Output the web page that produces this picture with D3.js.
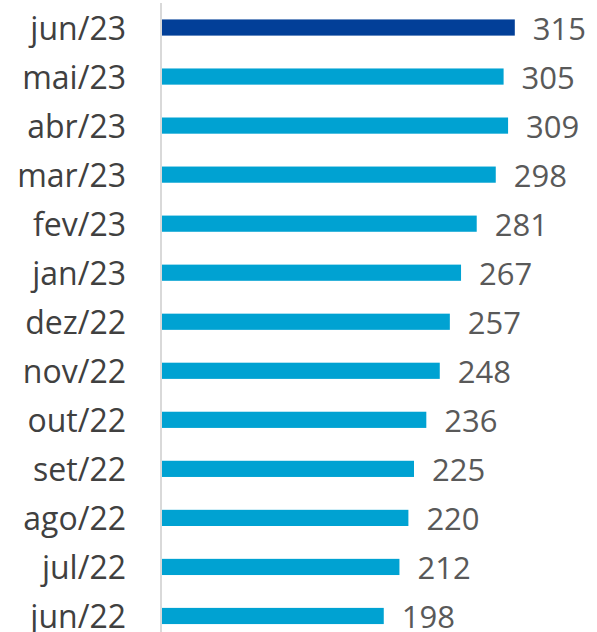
<!DOCTYPE html>
<html><head><meta charset="utf-8">
<script src="https://cdn.jsdelivr.net/npm/d3@7"></script>
<style>body{margin:0;background:#fff}svg{display:block}</style>
</head><body>
<script>
const categories = ["jun/23","mai/23","abr/23","mar/23","fev/23","jan/23","dez/22","nov/22","out/22","set/22","ago/22","jul/22","jun/22"];
const values = [315,305,309,298,281,267,257,248,236,225,220,212,198];
const highlight = ["jun/23"];

const W = 597, H = 632;
const svg = d3.select("body").append("svg").attr("width", W).attr("height", H);

const x = d3.scaleLinear().domain([0, 350]).range([162, 162 + 350 * 1.12]);
const y = d3.scaleBand().domain(categories).range([3, 640.5]).paddingInner(0.67).paddingOuter(0.335);

const data = categories.map((c, i) => ({c, v: values[i]}));

svg.selectAll("rect.bar").data(data).join("rect")
  .attr("class", "bar")
  .attr("x", x(0))
  .attr("y", d => y(d.c))
  .attr("width", d => x(d.v) - x(0))
  .attr("height", y.bandwidth())
  .attr("fill", d => highlight.includes(d.c) ? "#023F98" : "#00A2D2");

svg.append("line").attr("x1", 161).attr("x2", 161).attr("y1", 3).attr("y2", H)
  .attr("stroke", "#d9d9d9").attr("stroke-width", 2);

const font = "'Open Sans', sans-serif";
svg.selectAll("text.cat").data(data).join("text")
  .attr("class", "cat")
  .attr("x", 126)
  .attr("y", d => y(d.c) + y.bandwidth() / 2 + 12)
  .attr("text-anchor", "end")
  .attr("font-family", font).attr("font-size", 32)
  .attr("fill", "#404040")
  .text(d => d.c);

svg.selectAll("text.val").data(data).join("text")
  .attr("class", "val")
  .attr("x", d => x(d.v) + 18)
  .attr("y", d => y(d.c) + y.bandwidth() / 2 + 12)
  .attr("font-family", font).attr("font-size", 31)
  .attr("fill", "#595959")
  .text(d => d.v);
</script>
</body></html>
